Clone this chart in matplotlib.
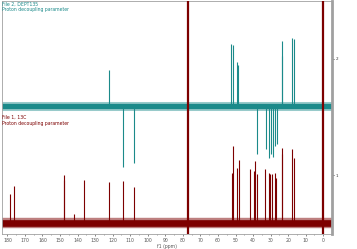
import matplotlib
matplotlib.use("Agg")
import matplotlib.pyplot as plt

# DEPT-135 trace (top): peak positions (ppm) and signed heights
dept_ppm = [122.3, 114.2, 108.1, 52.3, 51.5, 49.0, 48.3, 38.0, 32.8, 31.1,
            29.5, 28.6, 27.3, 26.5, 23.7, 23.3, 18.0, 16.5]
dept_int = [36, -62, -58, 62, 61, 44, 41, -49, -44, -53,
            -49, -52, -41, -39, 65, 50, 68, 67]

# 13C trace (bottom)
c13_ppm = [178.8, 176.0, 148.0, 147.5, 141.9, 136.5, 122.3, 114.0, 108.0,
           52.1, 51.3, 49.4, 48.1, 41.9, 39.2, 38.8, 38.0, 33.0, 30.9,
           30.1, 29.0, 27.7, 26.9, 23.7, 23.3, 18.0, 16.5]
c13_int = [29, 37, 43, 48, 9, 43, 41, 42, 36,
           50, 77, 55, 63, 54, 52, 62, 49, 54, 50,
           49, 49, 50, 45, 75, 69, 74, 65]
# solvent / reference lines running off scale
offscale_ppm = [77.16, 0.0]

xticks = list(range(180, -1, -10))
ytick_labels = ["1", "2"]

teal = "#1b8a8a"
red = "#7d0000"
grey = "#a0a0a0"

fig = plt.figure(figsize=(3.57, 2.49), dpi=100)
ax = fig.add_axes([0.006, 0.06, 0.924, 0.936])

x_left, x_right = 183, -5
ax.set_xlim(x_left, x_right)
ax.set_ylim(0, 234)

base_teal = 234 - 105
base_red = 234 - 223

# baselines (noise band: soft outer edge + dense core)
ax.plot([x_left, x_right], [base_teal, base_teal], color=teal, lw=6.5,
        alpha=0.45, solid_capstyle="butt", zorder=2)
ax.plot([x_left, x_right], [base_teal, base_teal], color=teal, lw=3.8,
        solid_capstyle="butt", zorder=2)
ax.plot([x_left, x_right], [base_red, base_red], color=red, lw=7.5,
        alpha=0.5, solid_capstyle="butt", zorder=2)
ax.plot([x_left, x_right], [base_red, base_red], color=red, lw=4.8,
        solid_capstyle="butt", zorder=2)

# peaks
ax.vlines(dept_ppm, base_teal, [base_teal + h for h in dept_int],
          color=teal, lw=0.8, zorder=3)
ax.vlines(c13_ppm, base_red, [base_red + h for h in c13_int],
          color=red, lw=0.8, zorder=3)
ax.vlines(offscale_ppm, 0, 234, color=red, lw=1.6, zorder=4)

# trace titles
ax.text(0.0, 0.998, "File 2, DEPT135", transform=ax.transAxes, fontsize=3.3,
        color=teal, va="top", ha="left")
ax.text(0.0, 0.975, "Proton decoupling parameter", transform=ax.transAxes,
        fontsize=3.3, color=teal, va="top", ha="left")
ax.text(0.0, 0.510, "File 1, 13C", transform=ax.transAxes, fontsize=3.3,
        color=red, va="top", ha="left")
ax.text(0.0, 0.487, "Proton decoupling parameter", transform=ax.transAxes,
        fontsize=3.3, color=red, va="top", ha="left")

# axes styling
ax.set_xticks(xticks)
ax.set_xticks(list(range(175, -5, -10)), minor=True)
ax.set_xticklabels([str(t) for t in xticks])
ax.tick_params(axis="x", labelsize=3.3, length=1.5, width=0.5, pad=1.5,
               colors="#555555")
ax.tick_params(axis="x", which="minor", length=1.0, width=0.4, colors="#555555")
ax.set_xlabel("f1 (ppm)", fontsize=3.3, labelpad=0.5, color="#555555")

ax.yaxis.tick_right()
ax.set_yticks([234 - 175, 234 - 58])
ax.set_yticklabels(ytick_labels)
ax.tick_params(axis="y", labelsize=3.0, length=1.5, width=0.6, pad=1,
               colors="#333333")

for side in ["left", "top", "bottom"]:
    ax.spines[side].set_color(grey)
    ax.spines[side].set_linewidth(0.6)
ax.spines["right"].set_color(grey)
ax.spines["right"].set_linewidth(2.0)

fig.savefig("out.png", dpi=100)
